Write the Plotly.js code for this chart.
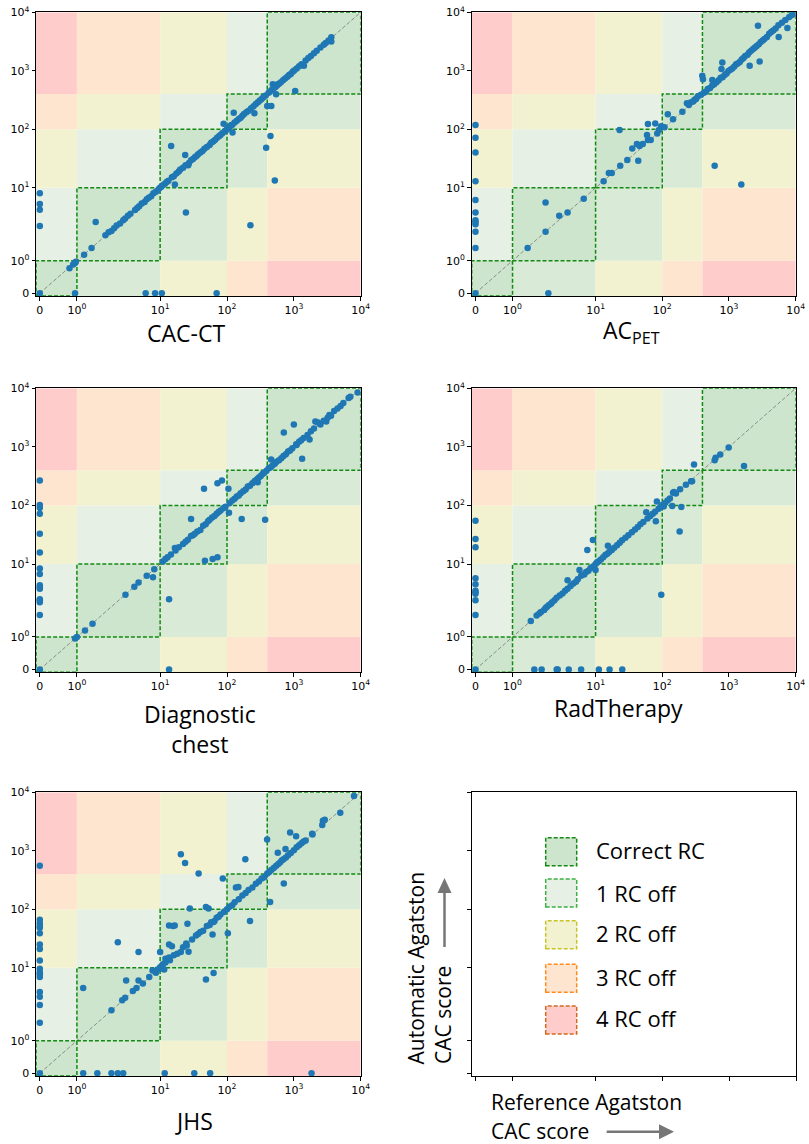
<!DOCTYPE html>
<html><head><meta charset="utf-8">
<script src="https://cdn.plot.ly/plotly-3.0.1.min.js"></script>
<style>html,body{margin:0;padding:0;background:#fff}#chart{width:809px;height:1144px}</style>
</head><body><div id="chart"></div>
<script>
// ---------- tick labels / categories ----------
const tickVals = [0, 1, 10, 100, 1000, 10000];
const tickText = ['0', '10<sup>0</sup>', '10<sup>1</sup>', '10<sup>2</sup>', '10<sup>3</sup>', '10<sup>4</sup>'];
const rcBounds = [0, 1, 10, 100, 400, 10000];
const rcNames = ['Correct RC', '1 RC off', '2 RC off', '3 RC off', '4 RC off'];
const panelTitles = ['CAC-CT', 'AC<sub>PET</sub>', 'Diagnostic<br>chest', 'RadTherapy', 'JHS'];

// ---------- CAC-CT ----------
const cacctRef = [
0, 0, 0, 0, 0,
0.95, 6.7, 8.7, 10.6, 70,
0.8, 0.9, 0.95, 0.97, 1.22, 1.5, 1.68, 2.2,
2.4, 2.6, 2.8, 3.0, 3.3, 3.6, 3.8, 4.1, 4.4, 5.0, 5.3, 5.6, 6.0, 6.5, 6.9, 7.3, 7.8, 8.3, 8.8, 9.3, 9.8,
10.3, 11, 11.8, 12.5, 13.3, 14.6, 16.6, 15, 16, 17.5, 19, 20, 22, 23.7, 24.3, 26.3, 24, 27, 29, 31,
33, 35, 37, 40, 43, 46, 50, 55, 58, 62, 66, 71, 76, 80, 85, 89, 92, 96, 100, 105,
110, 121, 115, 120, 126, 130, 140, 150, 160, 170, 180, 195, 210, 224, 230, 250, 257, 270, 290, 310,
330, 350, 385, 380, 400, 420, 447, 460, 484, 440, 470, 500, 519, 543, 530, 575, 560, 600, 640, 690,
740, 800, 850, 900, 960, 1047, 1010, 1100, 1200, 1300, 1413, 1500, 1650, 1800, 2000, 2200, 2500, 2800, 3000, 3631, 3631, 3300];
const cacctAuto = [
0, 8.4, 6.0, 5.0, 3.0,
0, 0, 0, 0, 0,
0.77, 0.88, 0.93, 0.97, 1.21, 1.49, 3.4, 2.23,
2.45, 2.55, 2.8, 3.05, 3.25, 3.6, 3.8, 4.15, 4.4, 4.95, 5.3, 5.6, 6.1, 6.4, 7.0, 7.3, 7.7, 8.4, 8.8, 9.2, 9.9,
10.3, 11.1, 11.7, 12.6, 13.2, 51.8, 11.4, 15.2, 15.8, 17.6, 19, 20.5, 22, 36.3, 4.6, 24.4, 24.3, 26.5, 29.5, 31,
33.5, 35, 37.5, 40, 42.5, 46.5, 50, 54, 59, 62, 66, 71.5, 76, 80, 86, 125, 92, 96, 101, 104,
111, 88, 117, 120, 193, 131, 140, 150, 158, 171, 182, 195, 208, 3.07, 230, 248, 188, 272, 290, 312,
330, 352, 48.5, 380, 251, 420, 77, 251, 590, 445, 475, 505, 13.4, 398, 530, 590, 560, 600, 640, 690,
740, 795, 850, 880, 960, 454, 1010, 1100, 1200, 1300, 1219, 1500, 1650, 1800, 2000, 2200, 2500, 2800, 3000, 3733, 3162, 3300];

// ---------- AC_PET ----------
const acpetRef = [
0, 0, 0, 0, 0, 0, 0, 0, 0, 0, 0, 0,
2.7,
1.52, 2.5, 2.5, 3.65, 4.6, 7.2,
13.2, 15.8, 17.5, 22.9, 23.4, 29.9, 35.5, 41.7, 45.7, 51, 43.6, 59, 61, 61, 67, 78.5, 84, 89, 96, 108,
121, 145, 200, 234, 250, 270, 290, 305, 320, 340, 380, 398, 407, 562, 610, 1531, 794, 770, 2720, 2880, 2040, 5560, 7500, 9400,
420, 450, 480, 520, 560, 600, 650, 700, 750, 800, 860, 920, 980, 1050, 1120, 1200, 1280, 1350, 1450, 1550,
1650, 1750, 1900, 2000, 2150, 2300, 2450, 2600, 2800, 3000, 3200, 3400, 3700, 4000, 4300, 4600, 5000, 5500, 6200, 7000, 8000, 8800];
const acpetAuto = [
0, 119, 72, 40, 13, 6.8, 4.6, 3.6, 3.4, 3.16, 2.5, 1.5,
0,
1.5, 2.5, 6.3, 4.15, 4.6, 7.1,
13, 18, 18, 97, 23.8, 29.8, 47, 56, 52, 56, 29, 80, 66, 123, 66, 126, 85, 97, 113, 109,
181, 149, 200, 279, 260, 290, 300, 320, 330, 363, 389, 820, 720, 700, 23.8, 11.4, 1390, 1070, 5900, 1450, 1220, 3800, 5400, 9500,
420, 440, 490, 510, 560, 590, 640, 690, 760, 780, 850, 900, 990, 1040, 1100, 1180, 1300, 1330, 1420, 1560,
1650, 1800, 1880, 2050, 2200, 2350, 2500, 2650, 2850, 3100, 3300, 3500, 3800, 4300, 4600, 4900, 5300, 6000, 6600, 7400, 8300, 9000];

// ---------- Diagnostic chest ----------
const diagRef = [
0, 0, 0, 0, 0, 0, 0, 0, 0, 0, 0, 0, 0, 0, 0, 0,
13.6, 13.6,
0.95, 1.0, 1.25, 1.54, 3.83, 4.9, 5.5, 6.9, 8.2, 8.5,
11, 12, 12.9, 14.5, 16.6, 17, 19, 22, 24, 26, 29, 31, 33, 29, 36, 40, 44, 46.8, 48, 61, 72, 45.3, 72, 84, 52, 55, 60, 65, 70, 75, 80, 88, 95,
105, 107, 166, 372, 288, 708, 1000, 1084, 1330, 457, 1288, 1720, 3050, 2100, 2300, 3400, 3600, 6600, 9000,
110, 120, 130, 140, 150, 160, 175, 190, 205, 220, 240, 260, 280, 300, 320, 340, 360, 390, 420, 450,
480, 520, 550, 600, 650, 700, 760, 820, 880, 950, 1100, 1200, 1400, 1600, 1800, 2000, 2500, 2800, 3200, 4000, 4500, 5000, 5500, 7000];
const diagAuto = [
0, 268, 102, 91, 72, 33, 15.8, 8.7, 7.3, 5.1, 4.8, 4.6, 3.3, 3.2, 3.0, 2.0,
0, 3.3,
0.95, 1.0, 1.23, 1.52, 3.8, 4.9, 5.6, 6.9, 6.6, 8.5,
11, 12.2, 13, 14.5, 18.8, 17, 19.3, 22, 24, 26, 30, 31, 33, 59, 36, 38, 45, 11.4, 48, 12.2, 13, 193, 240, 268, 54, 57, 62, 66, 72, 77, 82, 90, 95,
193, 75, 59, 57, 250, 1760, 2400, 1110, 630, 606, 1300, 1340, 2700, 2700, 2600, 3500, 3400, 6800, 8500,
110, 122, 130, 142, 148, 162, 175, 188, 210, 218, 240, 262, 280, 300, 318, 345, 360, 392, 430, 450,
480, 515, 560, 590, 640, 700, 750, 830, 870, 950, 1080, 1220, 1420, 1600, 1850, 2050, 2400, 2800, 3150, 4100, 4500, 5000, 5600, 7200];

// ---------- RadTherapy ----------
const radRef = [
0, 0, 0, 0, 0, 0, 0, 0, 0, 0, 0,
1.83, 2.24, 3.4, 3.5, 4.75, 6.7, 11.2, 16.2, 25.1,
96.6,
1.66, 1.95, 2.2, 2.4, 2.6, 2.9, 3.2, 3.4, 3.7, 4.0, 4.3, 4.6, 4.6, 6.4, 6.7, 7.3, 7.7, 8.2, 8.7, 9.3, 10, 10,
7.95, 9.3, 15.3, 10.5, 11.2, 12, 13, 14, 15, 16, 17.5, 19, 21, 23, 25, 28, 31, 35, 39, 43, 47, 52, 57.5, 60, 66, 72, 80, 83, 78, 88,
105, 141, 193, 182, 145, 150, 185, 226, 270, 280, 299, 610, 630, 740, 990, 1680, 95, 100, 110, 120, 130, 160,
5.0, 5.4, 5.8, 6.1, 2.1, 2.5, 2.75, 3.0];
const radAuto = [
0, 55, 26.8, 19.3, 6.4, 5.3, 4.3, 4.1, 3.9, 3.2, 2.0,
0, 0, 0, 0, 0, 0, 0, 0, 0,
3.8,
1.65, 1.97, 2.2, 2.35, 2.6, 2.85, 3.2, 3.45, 3.7, 3.95, 4.3, 4.6, 6.0, 8.3, 6.9, 7.2, 7.8, 8.1, 8.8, 9.2, 8.3, 10,
17.4, 25.8, 20.6, 10.6, 11.2, 12, 13, 14.2, 15, 16, 17.3, 19, 21, 23, 25.5, 28, 31, 35, 39, 43, 48, 52, 76.8, 60, 66, 72, 54, 117, 78, 88,
96, 98, 94, 35.8, 165, 170, 190, 226, 258, 258, 498, 590, 650, 740, 975, 472, 95, 102, 110, 122, 132, 160,
5.0, 5.4, 5.7, 6.2, 2.1, 2.5, 2.75, 3.0];

// ---------- JHS ----------
const jhsRef = [
0, 0, 0, 0, 0, 0, 0, 0, 0, 0, 0, 0, 0, 0, 0, 0, 0, 0,
1.19, 1.76, 2.6, 3.1, 3.6, 11.7, 32.4, 56, 1840,
1.19, 2.6, 3.1, 3.9, 3.5, 3.8, 4.7, 5.5, 5.5, 5.2, 6.2, 7.4, 8.1, 8.9, 9.3, 10, 10.5, 11, 11.5, 12, 10,
13.6, 15.6, 16.5, 13.6, 15, 12, 13.6, 14, 16, 18, 20.4, 25.6, 27.8, 26.6, 24.5, 22, 25, 30, 34.4, 37, 40, 44, 48.4, 53, 60.8, 63, 48.4, 63, 103, 86.5, 37.6, 20.4, 23.6,
188, 221, 136, 148, 398, 442, 708, 575, 750, 880, 1080, 1880, 2720, 2660, 2900, 4950, 7940,
50, 55, 58, 65, 70, 75, 80, 90, 100, 110, 120, 130, 150, 170, 190, 210, 240, 270, 300, 330,
360, 400, 430, 460, 500, 540, 580, 620, 660, 700, 760, 820, 900, 1000, 1100, 1200, 1300, 1400, 1500, 1900];
const jhsAuto = [
0, 553, 66.5, 58, 52, 48.5, 39, 25, 21, 13.4, 9.7, 8.7, 8.2, 7.5, 4.66, 4.0, 3.1, 1.76,
0, 0, 0, 0, 0, 0, 0, 0, 0,
5.3, 2.62, 27.5, 6.7, 3.6, 3.9, 4.8, 6.7, 18.6, 5.3, 6.1, 7.5, 9.2, 8.6, 9.5, 10.2, 9.8, 11.5, 9.5, 12.4, 18.6,
53, 52, 53, 25, 23.5, 14.3, 15, 13.5, 16.5, 17.5, 18.6, 56.7, 103, 18.8, 26, 22.5, 24, 30.5, 35.6, 38, 41, 43, 110, 103, 37.3, 60.7, 6.9, 8.5, 39, 336, 408, 877, 622,
720, 63, 235, 240, 1563, 134, 276, 925, 1070, 2060, 1780, 1950, 3270, 2750, 3400, 4470, 8650,
52, 54, 60, 63, 72, 75, 82, 90, 100, 112, 118, 132, 148, 172, 190, 215, 235, 275, 300, 335,
355, 410, 440, 470, 510, 550, 590, 630, 680, 720, 770, 840, 920, 1020, 1150, 1250, 1350, 1450, 1500, 1900];

// ---------- scale: linear below 1, stretched log 1..10, log above 10 ----------
function T(v) {
  if (v <= 1) return 0.555 * v;
  if (v < 10) return 0.555 + 1.245 * Math.log10(v);
  return 1.8 + (Math.log10(v) - 1);
}

const W = 809, H = 1144;
const fx = p => p / W, fy = p => 1 - p / H;
const XR = [-0.057, T(10000)], YR = [-0.048, T(10000)];

const cellColor = d => {
  if (d === 0) return '#cde5cd';
  if (d === 1) return '#e6f0e4';
  if (d === -1) return '#d9ebd6';
  const a = Math.abs(d);
  return a === 2 ? '#f2f2d0' : a === 3 ? '#fde5cf' : '#ffcccc';
};
const legFill = ['#cde5cd', '#e6f0e4', '#f2f2d0', '#fde5cf', '#ffcccc'];
const legLine = ['#138a13', '#3cb043', '#c8c428', '#ff8c1a', '#d2691e'];

const panels = [
  {ref: cacctRef, auto: cacctAuto, box: [36, 12.3, 360.7, 296], tp: [186, 333]},
  {ref: acpetRef, auto: acpetAuto, box: [471.7, 12.3, 795.7, 296], tp: [631, 331]},
  {ref: diagRef, auto: diagAuto, box: [36, 388.3, 360.7, 672.3], tp: [200, 729]},
  {ref: radRef, auto: radAuto, box: [471.7, 388.3, 795.7, 672.3], tp: [618, 708]},
  {ref: jhsRef, auto: jhsAuto, box: [36, 792.3, 360.7, 1076], tp: [194, 1121]}
];
const legendBox = [471.7, 792.3, 796, 1076];

const layout = {
  width: W, height: H, margin: {l: 0, r: 0, t: 0, b: 0},
  paper_bgcolor: '#fff', plot_bgcolor: '#fff', showlegend: false,
  shapes: [], annotations: []
};
const traces = [];
const tv = tickVals.map(T);

function addAxes(k, box, labels) {
  const sx = k === 1 ? '' : String(k);
  const common = {
    showgrid: false, zeroline: false, showline: true, mirror: true,
    linecolor: '#000', linewidth: 1, ticks: 'outside', ticklen: 3.5, tickwidth: 1, tickcolor: '#000',
    tickmode: 'array', tickvals: tv, ticktext: tickText, showticklabels: labels,
    tickfont: {family: 'DejaVu Sans', size: 11, color: '#000'}, fixedrange: true
  };
  layout['xaxis' + sx] = Object.assign({}, common, {domain: [fx(box[0]), fx(box[2])], range: XR, anchor: 'y' + sx});
  layout['yaxis' + sx] = Object.assign({}, common, {domain: [fy(box[3]), fy(box[1])], range: YR, anchor: 'x' + sx});
}

panels.forEach((p, idx) => {
  const k = idx + 1, sx = k === 1 ? '' : String(k);
  const xr = 'x' + sx, yr = 'y' + sx;
  addAxes(k, p.box, true);
  // background cells
  for (let i = 0; i < 5; i++) {
    for (let j = 0; j < 5; j++) {
      layout.shapes.push({
        type: 'rect', xref: xr, yref: yr, layer: 'below',
        x0: i === 0 ? XR[0] : T(rcBounds[i]), x1: T(rcBounds[i + 1]),
        y0: j === 0 ? YR[0] : T(rcBounds[j]), y1: T(rcBounds[j + 1]),
        fillcolor: cellColor(j - i), line: {width: 0}
      });
    }
  }
  // diagonal reference line
  layout.shapes.push({type: 'line', xref: xr, yref: yr, layer: 'below',
    x0: T(0), y0: T(0), x1: T(10000), y1: T(10000),
    line: {color: '#8c8c8c', width: 1, dash: '4px,2px'}});
  // correct-RC dashed boxes
  for (let i = 0; i < 5; i++) {
    layout.shapes.push({
      type: 'rect', xref: xr, yref: yr, layer: 'below',
      x0: i === 0 ? XR[0] : T(rcBounds[i]), x1: T(rcBounds[i + 1]),
      y0: i === 0 ? YR[0] : T(rcBounds[i]), y1: T(rcBounds[i + 1]),
      fillcolor: 'rgba(0,0,0,0)', line: {color: '#138a13', width: 1.5, dash: '4px,2px'}
    });
  }
  traces.push({
    type: 'scatter', mode: 'markers', xaxis: xr, yaxis: yr,
    x: p.ref.map(T), y: p.auto.map(T),
    marker: {size: 6.5, color: '#1f77b4'}, hoverinfo: 'skip'
  });
  layout.annotations.push({
    xref: 'paper', yref: 'paper', x: fx(p.tp[0]), y: fy(p.tp[1]),
    xanchor: 'center', yanchor: 'middle', showarrow: false,
    text: panelTitles[idx], font: {family: 'Open Sans', size: 23, color: '#000'}
  });
});

// legend panel (empty axes, ticks only)
addAxes(6, legendBox, false);
traces.push({type: 'scatter', mode: 'markers', xaxis: 'x6', yaxis: 'y6', x: [], y: [], hoverinfo: 'skip'});

const legTop = [837.7, 879, 920.7, 964.3, 1006];
const legText = [850, 892.7, 933.3, 976.7, 1017.7];
rcNames.forEach((name, i) => {
  layout.shapes.push({type: 'rect', xref: 'paper', yref: 'paper',
    x0: fx(545.7), x1: fx(576.7), y0: fy(legTop[i] + 28), y1: fy(legTop[i]),
    fillcolor: legFill[i], line: {color: legLine[i], width: 1.5, dash: '4px,2px'}});
  layout.annotations.push({xref: 'paper', yref: 'paper', x: fx(594), y: fy(legText[i]),
    xanchor: 'left', yanchor: 'middle', showarrow: false, text: name,
    font: {family: 'Open Sans', size: 22, color: '#000'}});
});

// axis captions with arrows
const capFont = {family: 'Open Sans', size: 21, color: '#000'};
layout.annotations.push(
  {xref: 'paper', yref: 'paper', x: fx(415), y: fy(1066), xanchor: 'center', yanchor: 'bottom',
   textangle: -90, showarrow: false, text: 'Automatic Agatston', font: capFont},
  {xref: 'paper', yref: 'paper', x: fx(443), y: fy(1066), xanchor: 'center', yanchor: 'bottom',
   textangle: -90, showarrow: false, text: 'CAC score', font: capFont},
  {xref: 'paper', yref: 'paper', x: fx(489), y: fy(1101.7), xanchor: 'left', yanchor: 'middle',
   showarrow: false, text: 'Reference Agatston', font: capFont},
  {xref: 'paper', yref: 'paper', x: fx(489), y: fy(1131), xanchor: 'left', yanchor: 'middle',
   showarrow: false, text: 'CAC score', font: capFont}
);
const arrowCol = '#767676';
layout.shapes.push(
  {type: 'line', xref: 'paper', yref: 'paper', x0: fx(444.5), x1: fx(444.5), y0: fy(947), y1: fy(892),
   line: {color: arrowCol, width: 2.5}},
  {type: 'path', xref: 'paper', yref: 'paper', fillcolor: arrowCol, line: {width: 0},
   path: `M ${fx(437.5)},${fy(893)} L ${fx(444.5)},${fy(878)} L ${fx(451.5)},${fy(893)} Z`},
  {type: 'line', xref: 'paper', yref: 'paper', x0: fx(606.7), x1: fx(660), y0: fy(1131.8), y1: fy(1131.8),
   line: {color: arrowCol, width: 2.5}},
  {type: 'path', xref: 'paper', yref: 'paper', fillcolor: arrowCol, line: {width: 0},
   path: `M ${fx(659)},${fy(1124.3)} L ${fx(674)},${fy(1131.8)} L ${fx(659)},${fy(1139.3)} Z`}
);

Plotly.newPlot('chart', traces, layout, {displayModeBar: false, staticPlot: true});
</script></body></html>
